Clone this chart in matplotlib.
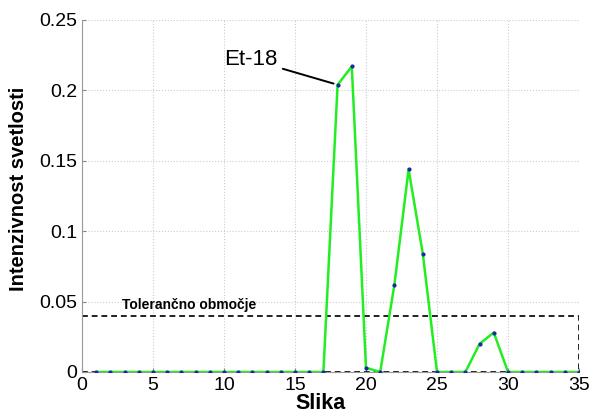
import matplotlib.pyplot as plt

plt.rcParams['font.family'] = ['Liberation Sans', 'DejaVu Sans']

slika = list(range(1, 36))
intenziteta = [0, 0, 0, 0, 0, 0, 0, 0, 0, 0,
               0, 0, 0, 0, 0, 0, 0, 0.204, 0.217, 0.003,
               0.0, 0.062, 0.144, 0.084, 0, 0, 0, 0.020, 0.028, 0,
               0, 0, 0, 0, 0]
tol_meja = 0.04

fig = plt.figure(figsize=(5.92, 4.16), dpi=100)
ax = fig.add_axes([82 / 592, 1 - 372 / 416, (579 - 82) / 592, (372 - 20) / 416])

ax.plot(slika, intenziteta, color='#22ee22', lw=1.8, zorder=3)
ax.plot(slika, intenziteta, ls='none', marker='.', ms=4, color='#1a2aa0', zorder=4)

# tolerance box
ax.plot([0, 35, 35], [tol_meja, tol_meja, 0], ls=(0, (3, 2)), color='#222222', lw=1.4, zorder=2)
ax.plot([0, 35], [0, 0], ls=(0, (3, 2)), color='#222222', lw=1.4, zorder=2)
ax.text(2.8, 0.0445, 'Tolerančno območje', fontsize=10, fontweight='bold')

ax.annotate('Et-18', xy=(18, 0.204), xytext=(10, 0.222), fontsize=16,
            va='center', arrowprops=dict(arrowstyle='-', color='black', lw=1.4,
                                         shrinkA=2, shrinkB=3))

ax.set_xlim(0, 35)
ax.set_ylim(0, 0.25)
ax.set_xticks([0, 5, 10, 15, 20, 25, 30, 35])
ax.set_yticks([0, 0.05, 0.1, 0.15, 0.2, 0.25])
ax.set_yticklabels(['0', '0.05', '0.1', '0.15', '0.2', '0.25'])
ax.tick_params(labelsize=14, direction='in', length=3, color='#888888')
ax.grid(True, ls=':', color='#cccccc', lw=0.8)
for s in ['top', 'right']:
    ax.spines[s].set_visible(False)
for s in ['left', 'bottom']:
    ax.spines[s].set_color('#999999')

ax.set_xlabel('Slika', fontsize=15.5, fontweight='bold')
ax.xaxis.set_label_coords(0.479, -0.06)
ax.set_ylabel('Intenzivnost svetlosti', fontsize=14.5, fontweight='bold')
ax.yaxis.set_label_coords(-0.108, 0.52)

fig.savefig('out.png', dpi=100)
